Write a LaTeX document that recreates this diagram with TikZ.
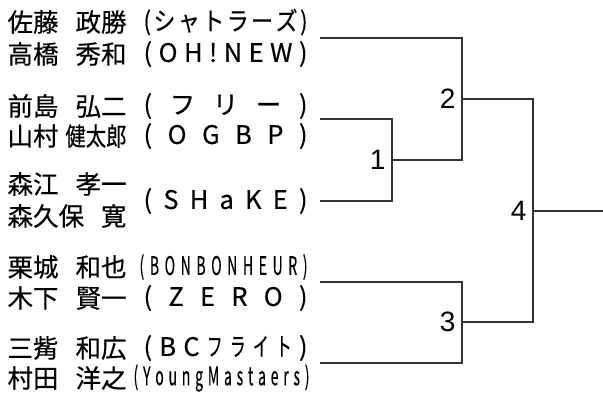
\documentclass[tikz,border=0pt]{standalone}
\usepackage{fontspec}
\setmainfont{Noto Sans CJK JP}[FakeBold=0.4]
\newfontfamily\numfont{Liberation Sans}
\usepackage{graphicx}
\usetikzlibrary{positioning}
\definecolor{bracketgray}{rgb}{0.2,0.2,0.2}
\makeatletter
\newcommand\spread[3]{\makebox[#1][s]{\@tfor\tk:=#3\do{\scalebox{#2}[1]{\tk}\hfill}\unskip}}
\makeatother
\newcommand\pname[2]{\makebox[119pt][s]{#1\hfill#2}}
\newcommand\kana[1]{\scalebox{.62}[1]{#1}}

\begin{document}
\begin{tikzpicture}[x=1pt, y=-1pt, line width=1.1pt,
                every node/.style={
                        inner sep=0pt,
                        anchor=west,
                        font=\fontsize{25.5}{26}\selectfont},
                num/.style={font=\numfont\fontsize{28}{29}\selectfont, anchor=east}]
                \useasboundingbox (0,0) rectangle (603,396);

                \node (A) at (7,22) {\pname{佐藤}{政勝}};
                \node (B) at (7,54) {\pname{高橋}{秀和}};
                \node (C) at (7,106) {\pname{前島}{弘二}};
                \node (D) at (7,136) {\pname{山村}{\scalebox{.8}[1]{健太郎}}};
                \node (E) at (7,184) {\pname{森江}{孝一}};
                \node (F) at (7,216) {\pname{森久保}{寛}};
                \node (G) at (7,267) {\pname{栗城}{和也}};
                \node (H) at (7,298) {\pname{木下}{賢一}};
                \node (I) at (7,348) {\pname{三觜}{和広}};
                \node (J) at (7,378) {\pname{村田}{洋之}};

                \node (TA) at (143,22) {\spread{164pt}{.86}{(シャトラーズ)}};
                \node (TB) at (143,54) {\spread{164pt}{1}{(OH!NEW)}};
                \node (TC) at (143,106) {\spread{164pt}{1}{(フリー)}};
                \node (TD) at (143,136) {\spread{164pt}{1}{(OGBP)}};
                \node (TE) at (143,201) {\spread{164pt}{1}{(SHaKE)}};
                \node (TG) at (139,267) {\spread{168pt}{.55}{(BONBONHEUR)}};
                \node (TH) at (143,298) {\spread{164pt}{1}{(ZERO)}};
                \node (TI) at (143,348) {\spread{164pt}{1}{(BC{\kana{フ}}{\kana{ラ}}{\kana{イ}}{\kana{ト}})}};
                \node (TJ) at (133,378) {\spread{176pt}{.55}{(YoungMastaers)}};

                \coordinate (E1) at (320,38);
                \coordinate (E2) at (320,119);
                \coordinate (E3) at (320,201);
                \coordinate (E4) at (320,282);
                \coordinate (E5) at (320,363);
                \coordinate (M1) at (392,160);
                \coordinate (M2) at (462,99);
                \coordinate (M3) at (462,322);
                \coordinate (M4) at (533,211);
                \coordinate (W) at (603,211);

                \node[num, left=6pt of M1] (L1) {1};
                \node[num, left=6pt of M2] (L2) {2};
                \node[num, left=6pt of M3] (L3) {3};
                \node[num, left=6pt of M4] (L4) {4};

                \draw[bracketgray] (E2) -| (M1) |- (E3);
                \draw[bracketgray] (E1) -| (M2) |- (M1);
                \draw[bracketgray] (E4) -| (M3) |- (E5);
                \draw[bracketgray] (M2) -| (M4) |- (M3);
                \draw[bracketgray] (M4) -- (W);
            \end{tikzpicture}
\end{document}
